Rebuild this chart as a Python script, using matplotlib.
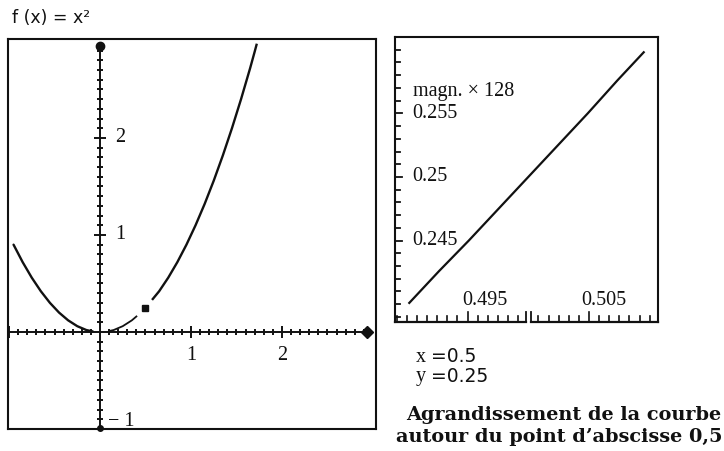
import matplotlib
matplotlib.use("Agg")
import matplotlib.pyplot as plt
import numpy as np
from matplotlib.transforms import blended_transform_factory

# ---------------- data ----------------
# main plot: f(x) = x^2, drawn in three pieces (gaps near the axis and around x = 0.5)
left_x = [-0.95, -0.90, -0.85, -0.80, -0.75, -0.70, -0.65, -0.60, -0.55, -0.50,
          -0.45, -0.40, -0.35, -0.30, -0.25, -0.20, -0.15, -0.10, -0.08]
left_y = [0.90, 0.81, 0.72, 0.64, 0.56, 0.49, 0.42, 0.36, 0.30, 0.25,
          0.20, 0.16, 0.12, 0.09, 0.06, 0.04, 0.02, 0.01, 0.006]
near_x = [0.10, 0.15, 0.20, 0.25, 0.30, 0.35, 0.40]
near_y = [0.01, 0.02, 0.04, 0.06, 0.09, 0.12, 0.16]
upper_x = [0.58, 0.65, 0.70, 0.75, 0.80, 0.85, 0.90, 0.95, 1.00, 1.05, 1.10, 1.15,
           1.20, 1.25, 1.30, 1.35, 1.40, 1.45, 1.50, 1.55, 1.60, 1.65, 1.70, 1.72]
upper_y = [0.34, 0.42, 0.49, 0.56, 0.64, 0.72, 0.81, 0.90, 1.00, 1.10, 1.21, 1.32,
           1.44, 1.56, 1.69, 1.82, 1.96, 2.10, 2.25, 2.40, 2.56, 2.72, 2.89, 2.96]
point_x = [0.5]
point_y = [0.25]

main_xtick_vals = [1, 2]
main_xtick_labels = ["1", "2"]
main_ytick_vals = [2, 1]
main_ytick_labels = ["2", "1"]
main_ymin_label = "\u2212 1"

# magnified plot around (0.5, 0.25)
zoom_x = [0.4900, 0.4925, 0.4950, 0.4975, 0.5000, 0.5025, 0.5050, 0.5075, 0.5097]
zoom_y = [0.2401, 0.2426, 0.2450, 0.2475, 0.2500, 0.2525, 0.2550, 0.2576, 0.2598]
zoom_xtick_vals = [0.495, 0.505]
zoom_xtick_labels = ["0.495", "0.505"]
zoom_ytick_vals = [0.255, 0.25, 0.245]
zoom_ytick_labels = ["0.255", "0.25", "0.245"]

title_text = "f (x) = x\u00b2"
magn_text = "magn. \u00d7 128"
readout_names = ["x", "y"]
readout_values = ["=0.5", "=0.25"]
caption_lines = ["Agrandissement de la courbe", "autour du point d\u2019abscisse 0,5"]

# ---------------- figure ----------------
W, H = 724, 451
fig = plt.figure(figsize=(W / 100, H / 100), dpi=100)
fig.patch.set_facecolor("white")
serif = ["Liberation Serif", "DejaVu Serif"]
ink = "#111111"
LAB = 14.5


def px_axes(l, t, r, b):
    return fig.add_axes([l / W, (H - b) / H, (r - l) / W, (b - t) / H])


# ---- main panel ----
ax = px_axes(8, 39, 376, 429)
ax.set_xlim(-1.011, 3.033)
ax.set_ylim(-1.0, 3.02)
ax.set_xticks([])
ax.set_yticks([])
for s in ax.spines.values():
    s.set_linewidth(1.5)
    s.set_color(ink)

# axes through the origin
x_end = 2.93
y_top, y_bot = 2.95, -0.99
ax.plot([-1.011, x_end], [0, 0], color=ink, lw=1.4, zorder=2)
ax.plot([0, 0], [y_bot, y_top], color=ink, lw=1.4, zorder=2)


def tick_size(v):
    if abs(v - round(v)) < 1e-6:
        return 9
    return 5


xt = np.round(np.arange(-1.0, 2.91, 0.1), 2)
xt = xt[np.abs(xt) > 1e-9]
for v in xt:
    ax.plot([v], [0], marker="|", ms=tick_size(v), mew=1.4, color=ink, zorder=3)
yt = np.round(np.arange(-0.9, 2.91, 0.1), 2)
yt = yt[np.abs(yt) > 1e-9]
for v in yt:
    ax.plot([0], [v], marker="_", ms=tick_size(v), mew=1.4, color=ink, zorder=3)

ax.plot([0], [y_top], marker="o", ms=6, color=ink, zorder=4, clip_on=False)
ax.plot([0], [y_bot], marker="o", ms=4, color=ink, zorder=4, clip_on=False)
ax.plot([x_end], [0], marker="D", ms=6, color=ink, zorder=4)

ax.plot(left_x, left_y, color=ink, lw=1.7, solid_capstyle="round", zorder=5)
ax.plot(near_x, near_y, color=ink, lw=1.3, zorder=5)
ax.plot(upper_x, upper_y, color=ink, lw=1.7, zorder=5)
ax.plot(point_x, point_y, marker="s", ms=4, color=ink, zorder=6, ls="none")

for v, lab in zip(main_ytick_vals, main_ytick_labels):
    ax.text(0.17, v, lab, ha="left", va="center", fontsize=LAB, family=serif, color=ink)
for v, lab in zip(main_xtick_vals, main_xtick_labels):
    ax.text(v, -0.24, lab, ha="center", va="center", fontsize=LAB, family=serif, color=ink)
ax.text(0.09, -0.92, main_ymin_label, ha="left", va="center", fontsize=LAB, family=serif,
        color=ink)

fig.text(12 / W, 1 - 18 / H, title_text, ha="left", va="center", fontsize=12.5,
         family=["DejaVu Sans"], color=ink)

# ---- magnified panel ----
az = px_axes(395, 37, 658, 322)
az.set_xlim(0.4888, 0.5109)
az.set_ylim(0.2386, 0.2610)
az.set_xticks([])
az.set_yticks([])
for s in az.spines.values():
    s.set_linewidth(1.5)
    s.set_color(ink)
az.spines["bottom"].set_visible(False)

az.plot(zoom_x, zoom_y, color=ink, lw=1.6, zorder=5)

# left-edge ticks (inward)
bl_y = blended_transform_factory(az.transAxes, az.transData)
for v in np.round(np.arange(0.239, 0.2609, 0.001), 4):
    major = any(abs(v - m) < 1e-6 for m in zoom_ytick_vals)
    ln = 0.028 if major else 0.02
    az.plot([0, ln], [v, v], transform=bl_y, color=ink, lw=1.3, clip_on=False)
for v, lab in zip(zoom_ytick_vals, zoom_ytick_labels):
    az.text(0.066, v, lab, transform=bl_y, ha="left", va="center", fontsize=LAB,
            family=serif, color=ink)

# bottom axis, broken at 0.5
bl_x = blended_transform_factory(az.transData, az.transAxes)
gap_l, gap_r = 0.4998, 0.5002
az.plot([0.4888, gap_l], [0, 0], transform=bl_x, color=ink, lw=1.6, clip_on=False)
az.plot([gap_r, 0.5109], [0, 0], transform=bl_x, color=ink, lw=1.6, clip_on=False)
step = 0.00085
ticks_l = [0.5 - k * step for k in range(1, 14)]
ticks_r = [0.5 + k * step for k in range(1, 13)]
for v in ticks_l + ticks_r:
    if 0.4889 < v < 0.5108:
        major = any(abs(v - m) < step / 2 for m in zoom_xtick_vals)
        ln = 0.035 if major else 0.022
        az.plot([v, v], [0, ln], transform=bl_x, color=ink, lw=1.2, clip_on=False)
for v in (gap_l, gap_r):
    az.plot([v, v], [0, 0.035], transform=bl_x, color=ink, lw=1.3, clip_on=False)
for v, lab in zip(zoom_xtick_vals, zoom_xtick_labels):
    az.annotate(lab, (v, 0.077), xycoords=bl_x, xytext=(-5, 0), textcoords="offset points",
                ha="left", va="center", fontsize=LAB, family=serif, color=ink)

az.text(0.068, 0.81, magn_text, transform=az.transAxes, ha="left", va="center",
        fontsize=LAB, family=serif, color=ink)

# ---- readout and caption ----
for i, (nm, val) in enumerate(zip(readout_names, readout_values)):
    yy = 1 - (357 + 20 * i) / H
    fig.text(416 / W, yy, nm, ha="left", va="center", fontsize=LAB, family=serif, color=ink)
    fig.text(431 / W, yy, val, ha="left", va="center", fontsize=13.5,
             family=["DejaVu Sans"], color=ink)

fig.text(721 / W, 1 - 415 / H, caption_lines[0], ha="right", va="center", fontsize=13.9,
         family=["DejaVu Serif"], weight="bold", color=ink)
fig.text(723 / W, 1 - 437 / H, caption_lines[1], ha="right", va="center", fontsize=13.9,
         family=["DejaVu Serif"], weight="bold", color=ink)

fig.savefig("out.png", dpi=100, facecolor="white")
